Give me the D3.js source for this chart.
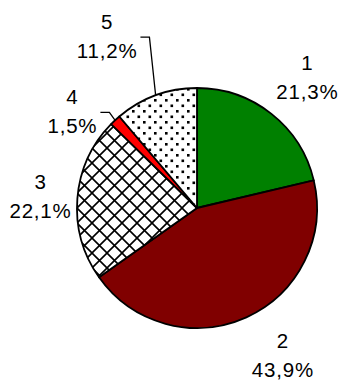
<!DOCTYPE html>
<html>
<head>
<meta charset="utf-8">
<script src="https://cdn.jsdelivr.net/npm/d3@7"></script>
<style>
  body { margin: 0; background: #fff; }
  svg { display: block; }
  .pie-label { font-family: "Liberation Sans", Arial, sans-serif; font-size: 20.5px; letter-spacing: 0.8px; fill: #000; }
</style>
</head>
<body>
<div id="chart"></div>
<script>
// chart values
var categories = ['1', '2', '3', '4', '5'];
var shares = [21.3, 43.9, 22.1, 1.5, 11.2];
var shareLabels = ['21,3%', '43,9%', '22,1%', '1,5%', '11,2%'];
var fills = ['#008000', '#800000', 'url(#crosshatch)', '#ff0000', 'url(#dots)'];

var outerWidth = 338;
var outerHeight = 381;
var cx = 197;
var cy = 208;
var radius = 120;
var LABEL_RADIUS = 165;
var LINE_GAP = 29;

// nudges from the label arc centroid, per slice (Excel moved some labels)
var labelNudge = [[8, -1], [18, -3], [8, 1], [-12, 24], [-33, -17]];
var hasLeader = [false, false, false, true, true];

var svg = d3.select('#chart')
  .append('svg')
  .attr('width', outerWidth)
  .attr('height', outerHeight);

var defs = svg.append('defs');

// small dots pattern
var DOT_TILE = 11;
var dots = defs.append('pattern')
  .attr('id', 'dots')
  .attr('patternUnits', 'userSpaceOnUse')
  .attr('width', DOT_TILE)
  .attr('height', DOT_TILE);
dots.append('rect').attr('width', DOT_TILE).attr('height', DOT_TILE).attr('fill', '#fff');
dots.append('rect').attr('x', 1).attr('y', 1).attr('width', 2.6).attr('height', 2.6).attr('fill', '#000');
dots.append('rect').attr('x', 6.5).attr('y', 6.5).attr('width', 2.6).attr('height', 2.6).attr('fill', '#000');

// diagonal crosshatch
var HATCH = 15;
var hatch = defs.append('pattern')
  .attr('id', 'crosshatch')
  .attr('patternUnits', 'userSpaceOnUse')
  .attr('width', HATCH)
  .attr('height', HATCH);
hatch.append('rect').attr('width', HATCH).attr('height', HATCH).attr('fill', '#fff');
hatch.append('path')
  .attr('d', 'M-1,-1L' + (HATCH + 1) + ',' + (HATCH + 1) + 'M' + (HATCH + 1) + ',-1L-1,' + (HATCH + 1))
  .attr('stroke', '#000')
  .attr('stroke-width', 1.6);

var pie = d3.pie().sort(null).value(function (d) { return d; });
var arcs = pie(shares);

var arc = d3.arc().innerRadius(0).outerRadius(radius);
var labelArc = d3.arc().innerRadius(LABEL_RADIUS).outerRadius(LABEL_RADIUS);
var edgeArc = d3.arc().innerRadius(radius).outerRadius(radius);

var g = svg.append('g').attr('transform', 'translate(' + cx + ',' + cy + ')');

g.selectAll('path.slice')
  .data(arcs)
  .enter()
  .append('path')
  .attr('class', 'slice')
  .attr('d', arc)
  .attr('fill', function (d, i) { return fills[i]; })
  .attr('stroke', '#000')
  .attr('stroke-width', 1.8)
  .attr('stroke-linejoin', 'round');

// labels
arcs.forEach(function (d, i) {
  var c = labelArc.centroid(d);
  var x = c[0] + labelNudge[i][0];
  var y = c[1] + labelNudge[i][1];

  var text = g.append('text')
    .attr('class', 'pie-label')
    .attr('text-anchor', 'middle')
    .attr('x', x)
    .attr('y', y - LINE_GAP / 2 + 7);
  text.append('tspan').attr('x', x).text(categories[i]);
  text.append('tspan').attr('x', x).attr('dy', LINE_GAP).text(shareLabels[i]);

  if (hasLeader[i]) {
    var e = edgeArc.centroid(d);
    var w = text.node().getBBox().width / 2;
    var endX = x + w + 3;
    var elbowX = endX + 9;
    var ly = y + 1;
    g.append('polyline')
      .attr('points', [[endX, ly], [elbowX, ly], e].map(function (p) { return p.join(','); }).join(' '))
      .attr('fill', 'none')
      .attr('stroke', '#000')
      .attr('stroke-width', 1.3);
  }
});
</script>
</body>
</html>
